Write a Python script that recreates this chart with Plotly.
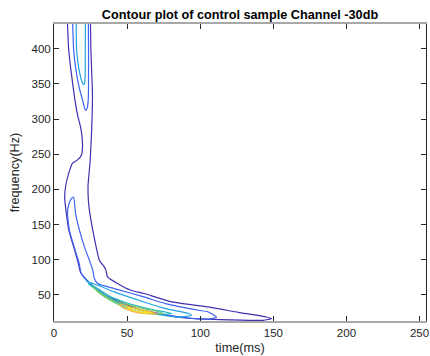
import plotly.graph_objects as go

# Contour level colours (parula-like, low -> high)
level_colors = ["#4130B0", "#3F63F2", "#22A4E4", "#21B9BC", "#6CCB6E", "#F2B53E", "#F7E023"]

# Level 1 (outermost)
x1 = [9.1, 10.0, 11.3, 13.8, 16.1, 18.3, 19.5, 18.8, 16.1, 12.7, 10.4, 8.1, 7.3, 8.4, 10.1, 13.4, 16.4, 18.1, 22.9, 28.8,
      35.5, 46.8, 58.1, 69.5, 80.7, 92.1, 98.8, 119.2, 142.9, 148.7, 145.2, 126.0, 105.6, 80.7, 61.5, 52.5, 43.4, 36.6, 35.5, 34.4,
      31.0, 28.8, 26.5, 24.2, 23.5, 23.3, 24.7, 25.8, 26.3, 25.2, 24.9]
y1 = [441.6, 400.2, 374.5, 334.6, 306, 287.5, 263.3, 249, 241.9, 237.2, 225.2, 206.2, 189.5, 166.3, 142, 118.5, 96.4, 82.1, 70, 57.8,
      48.6, 38.6, 29.3, 24.3, 19.5, 16.5, 15.6, 14.3, 13.6, 16.0, 18.3, 25, 32.6, 39.7, 51.7, 56.4, 66, 75.4, 85, 89.7,
      99.2, 118.2, 142, 170.5, 184.8, 206.2, 239.4, 287.5, 334.6, 400.2, 441.6]

# Level 2: upper branch and lower region
x2t = [12.7, 13.4, 14.7, 17.2, 19.5, 20.8, 21.7, 22.7, 23.4, 23.6, 23.6, 23.5]
y2t = [441.6, 400.2, 374.6, 345, 327.5, 316.5, 312, 316, 327, 345, 400.2, 441.6]
x2b = [13.4, 14.7, 17.4, 20.8, 24.2, 26.5, 27.6, 29.9, 41.2, 61.5, 76.3, 98.8, 105.6, 111.1, 105.6, 92.1, 80.7, 69.5, 58.1, 45.7,
       36.6, 29.9, 23.1, 18.6, 17.1, 13.7, 10.5, 9.2, 10.0, 11.7, 13.4]
y2b = [189.1, 166.3, 142, 118.2, 99.2, 85, 73.1, 66, 58.8, 46.9, 37.4, 27.9, 25.5, 17.9, 15.3, 16.8, 19.8, 23.6, 28.6, 37.4,
       47.4, 57.1, 68.8, 80.7, 95.6, 118.5, 142, 166.3, 177.7, 186.2, 189.1]

# Level 3: upper branch and lower region
x3t = [15.2, 15.4, 16.8, 18.4, 19.5, 20.3, 21.0, 21.3, 21.4, 21.5]
y3t = [441.6, 400.2, 374.6, 358, 351.5, 349, 352, 362, 400.2, 441.6]
x3b = [21.5, 23.1, 29.9, 41.2, 61.5, 76.3, 92.1, 94.1, 85.3, 71.7, 58.1, 45.7, 36.6, 29.9, 24.2, 21.5]
y3b = [72.1, 68.3, 63.6, 54, 39.7, 30.3, 23.2, 20.5, 18.2, 21.5, 27.9, 36.7, 46.4, 56, 65.7, 72.1]

# Level 4
x4 = [23.5, 29.9, 38.9, 48.0, 59.3, 69.5, 80.7, 75.1, 64.9, 54.7, 45.7, 36.6, 29.9, 24.9, 23.5]
y4 = [65.7, 58.8, 46.9, 39.7, 32.6, 27.9, 23.2, 22.2, 25, 30.7, 36.4, 46, 55.4, 63.6, 65.7]

# Level 5
x5 = [26.3, 32.2, 41.2, 50.0, 61.5, 71.7, 74.4, 64.9, 54.7, 45.3, 36.4, 29.9, 26.3]
y5 = [61.4, 52.1, 41.4, 36.4, 30.3, 25.7, 22.9, 22.9, 27.2, 34.6, 44.6, 54.3, 61.4]

# Level 6
x6 = [44.6, 51.4, 61.5, 68.3, 70.4, 63.6, 54.7, 46.6, 44.6]
y6 = [37.2, 33.2, 27.9, 24.3, 22.9, 22.9, 25.7, 32.2, 37.2]

# Level 7 (innermost)
x7 = [49.3, 58.1, 64.9, 67.0, 60.2, 52.8, 49.3]
y7 = [32.9, 28.3, 25.0, 23.9, 24.8, 28.6, 32.9]

x_ticks = [0, 50, 100, 150, 200, 250]
y_ticks = [50, 100, 150, 200, 250, 300, 350, 400]
x_range = [0, 254.4]
y_range = [12.6, 435.4]

segments = [
    (x1, y1, 0), (x2t, y2t, 1), (x2b, y2b, 1), (x3t, y3t, 2), (x3b, y3b, 2),
    (x4, y4, 3), (x5, y5, 4), (x6, y6, 5), (x7, y7, 6),
]

fig = go.Figure()
for xs, ys, lvl in segments:
    fig.add_trace(go.Scatter(x=xs, y=ys, mode="lines",
                             line=dict(color=level_colors[lvl], width=1.2,
                                       shape="spline", smoothing=0.5),
                             showlegend=False, hoverinfo="skip"))

font_family = "Liberation Sans, Arial, sans-serif"
fig.update_layout(
    width=430, height=356,
    margin=dict(l=54, r=1, t=24, b=35),
    paper_bgcolor="white", plot_bgcolor="white",
    font=dict(family=font_family, size=11.5, color="#262626"),
    title=dict(text="<b>Contour plot of control sample Channel -30db</b>",
               x=0.5, xref="paper", y=1 - 15 / 356, yref="container",
               xanchor="center", yanchor="middle",
               font=dict(size=12.7, color="#000000", family=font_family)),
)
fig.update_xaxes(range=x_range, tickvals=x_ticks, ticks="inside", ticklen=5,
                 tickcolor="#262626", showline=True, linecolor="#a8a8a8", linewidth=2,
                 mirror="ticks", showgrid=False, zeroline=False,
                 ticklabeloverflow="allow",
                 title=dict(text="time(ms)", font=dict(size=12.7), standoff=5))
fig.update_yaxes(range=y_range, tickvals=y_ticks, ticks="inside", ticklen=5,
                 tickcolor="#262626", showline=True, linecolor="#262626", linewidth=1,
                 mirror="ticks", showgrid=False, zeroline=False,
                 title=dict(text="frequency(Hz)", font=dict(size=12.7), standoff=9))

fig.write_html("out.html")
